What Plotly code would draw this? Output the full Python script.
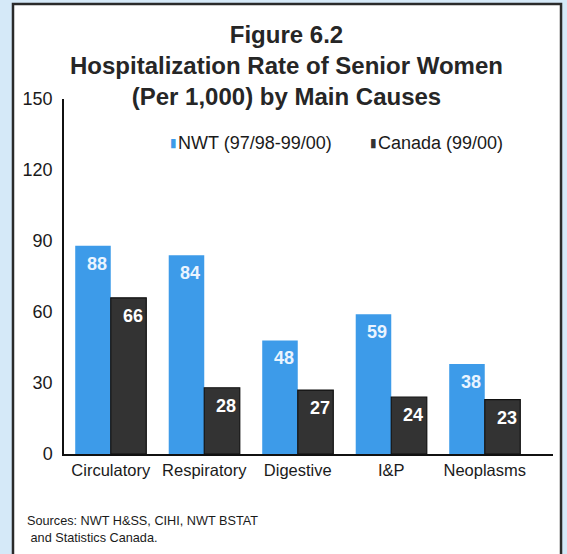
import plotly.graph_objects as go

categories = ["Circulatory", "Respiratory", "Digestive", "I&P", "Neoplasms"]
nwt_values = [88, 84, 48, 59, 38]
canada_values = [66, 28, 27, 24, 23]
series_names = ["NWT (97/98-99/00)", "Canada (99/00)"]
y_ticks = [0, 30, 60, 90, 120, 150]

BLUE = "#3d9be9"
DARK = "#333333"
FONT = "Liberation Sans, Arial, Helvetica, sans-serif"

fig = go.Figure()
fig.add_trace(go.Bar(x=categories, y=nwt_values, name=series_names[0],
                     marker=dict(color=BLUE, line=dict(width=0)), showlegend=False))
fig.add_trace(go.Bar(x=categories, y=canada_values, name=series_names[1],
                     marker=dict(color=DARK, line=dict(color="#111111", width=1.2)), showlegend=False))

annotations = []
# value labels inside bars
for cat, v in zip(categories, nwt_values):
    annotations.append(dict(x=cat, y=v, xref="x", yref="y", text=f"<b>{v}</b>",
                            showarrow=False, xshift=-14, yshift=-18, yanchor="middle",
                            font=dict(family=FONT, size=18, color="#eaf4ff")))
for cat, v in zip(categories, canada_values):
    annotations.append(dict(x=cat, y=v, xref="x", yref="y", text=f"<b>{v}</b>",
                            showarrow=False, xshift=22, yshift=-18, yanchor="middle",
                            font=dict(family=FONT, size=18, color="#ffffff")))

# title
annotations.append(dict(x=0.456, y=1.093, xref="paper", yref="paper",
                        text="<b>Figure 6.2<br>Hospitalization Rate of Senior Women<br>(Per 1,000) by Main Causes</b>",
                        showarrow=False, xanchor="center", yanchor="middle", align="center",
                        font=dict(family=FONT, size=24, color="#262626")))

# legend
leg_y = 0.876
for xpos, color, name in [(0.2127, BLUE, series_names[0]), (0.6217, DARK, series_names[1])]:
    annotations.append(dict(x=xpos, y=leg_y, xref="paper", yref="paper", text="▮",
                            showarrow=False, xanchor="left", yanchor="middle",
                            font=dict(family="DejaVu Sans", size=12, color=color)))
    annotations.append(dict(x=xpos + 0.016, y=leg_y, xref="paper", yref="paper", text=name,
                            showarrow=False, xanchor="left", yanchor="middle",
                            font=dict(family=FONT, size=18, color="#1a1a1a")))

# sources
annotations.append(dict(x=-0.0798, y=-0.163, xref="paper", yref="paper",
                        text="Sources: NWT H&SS, CIHI, NWT BSTAT<br> and Statistics Canada.",
                        showarrow=False, xanchor="left", yanchor="top", align="left",
                        font=dict(family=FONT, size=12.7, color="#1a1a1a")))

fig.update_layout(
    width=567, height=554,
    margin=dict(l=64, r=14, t=99, b=100),
    paper_bgcolor="#d5e9f8",
    plot_bgcolor="rgba(0,0,0,0)",
    barmode="group",
    bargap=0.24,
    bargroupgap=0,
    annotations=annotations,
    shapes=[dict(type="rect", xref="paper", yref="paper",
                 x0=-0.1043, x1=1.0164, y0=-0.32, y1=1.2676,
                 fillcolor="white", line=dict(color="#2a2a2a", width=2.5), layer="below")],
    font=dict(family=FONT, size=18, color="#1a1a1a"),
)
fig.update_xaxes(range=[-0.5, 4.73], showline=True, linecolor="#111111", linewidth=1.5,
                 ticks="", showgrid=False, zeroline=False,
                 tickfont=dict(family=FONT, size=16.5, color="#1a1a1a"))
fig.update_yaxes(range=[0, 150], tickvals=y_ticks, showline=True, linecolor="#111111",
                 linewidth=1.5, ticks="", showgrid=False, zeroline=False,
                 ticklabelstandoff=6,
                 tickfont=dict(family=FONT, size=18, color="#1a1a1a"))

fig.write_html("out.html", config={"displayModeBar": False},
               post_script="document.body.style.margin='0';document.body.style.overflow='hidden';")
